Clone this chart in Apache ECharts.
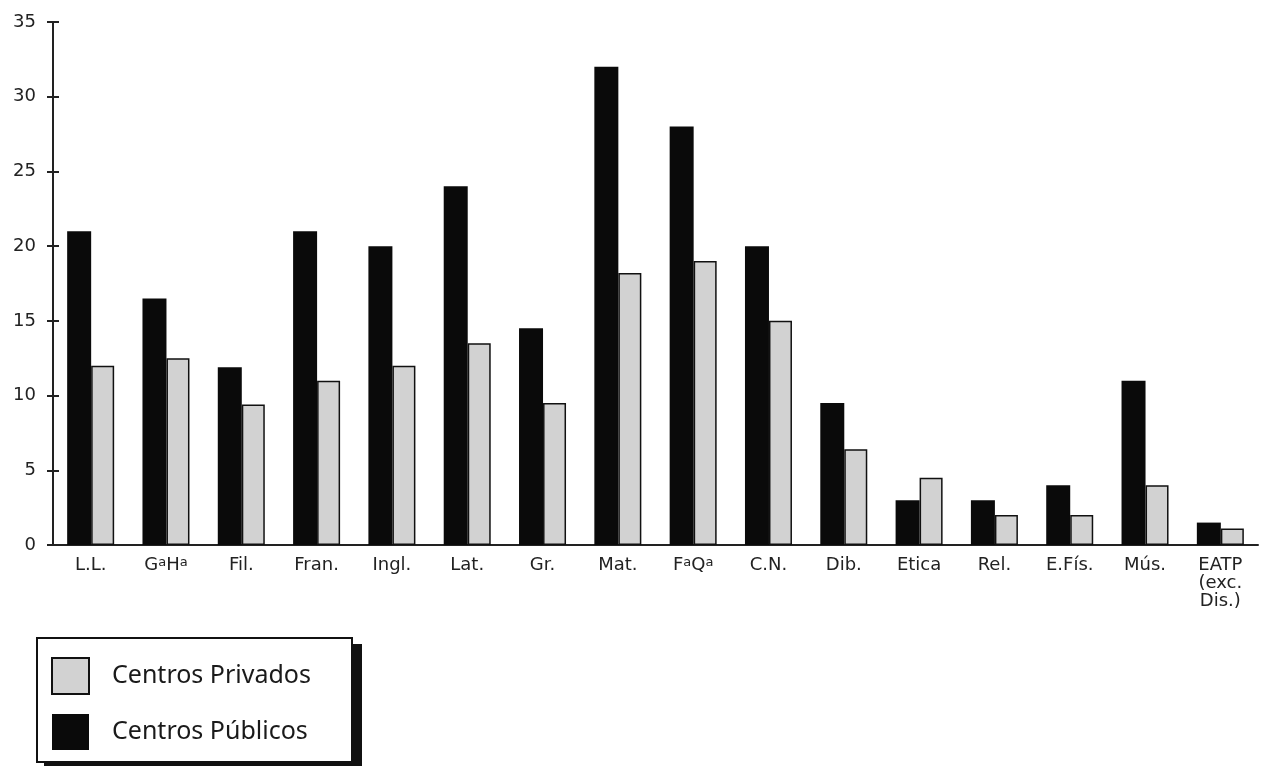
<!DOCTYPE html>
<html>
<head>
<meta charset="utf-8">
<script src="https://cdn.jsdelivr.net/npm/echarts@6/dist/echarts.min.js"></script>
<style>
html,body{margin:0;padding:0;background:#fff;}
#c{width:1261px;height:766px;}
</style>
</head>
<body>
<div id="c"></div>
<script>
var categories = ['L.L.', 'G{s|a}H{s|a}', 'Fil.', 'Fran.', 'Ingl.', 'Lat.', 'Gr.', 'Mat.', 'F{s|a}Q{s|a}', 'C.N.', 'Dib.', 'Etica', 'Rel.', 'E.Fís.', 'Mús.', 'EATP\n(exc.\nDis.)'];
var publicos = [21, 16.5, 11.9, 21, 20, 24, 14.5, 32, 28, 20, 9.5, 3, 3, 4, 11, 1.5];
var privados = [12, 12.5, 9.4, 11, 12, 13.5, 9.5, 18.2, 19, 15, 6.4, 4.5, 2, 2, 4, 1.1];
var yTicks = [0, 5, 10, 15, 20, 25, 30, 35];

var chart = echarts.init(document.getElementById('c'));
var labelFont = 'DejaVu Sans, Liberation Sans, sans-serif';
chart.setOption({
  animation: false,
  backgroundColor: '#fff',
  textStyle: {fontFamily: labelFont},
  grid: {left: 53, right: 3, top: 22, bottom: 221},
  graphic: [{
    type: 'rect', z: 0, silent: true,
    shape: {x: 44, y: 644, width: 318, height: 130},
    style: {fill: '#111'}
  }, {
    type: 'rect', z: 1, silent: true,
    shape: {x: 37, y: 638, width: 315, height: 124},
    style: {fill: '#fff', stroke: '#111', lineWidth: 2}
  }],
  legend: {
    orient: 'vertical',
    left: 51, top: 657,
    data: ['Centros Privados', 'Centros Públicos'],
    icon: 'rect',
    itemWidth: 37, itemHeight: 36,
    itemGap: 19,
    padding: 0,
    z: 10,
    textStyle: {fontFamily: 'Noto Sans', fontSize: 25, color: '#1a1a1a', padding: [0, 0, 0, 18]},
    selectedMode: false
  },
  xAxis: [{
    type: 'category', data: categories,
    axisLine: {lineStyle: {color: '#222', width: 2}},
    axisTick: {length: 7, lineStyle: {color: '#222', width: 2}},
    axisLabel: {
      interval: 0, margin: 11, color: '#222', fontSize: 18, lineHeight: 18,
      fontFamily: labelFont,
      rich: {s: {fontSize: 13, verticalAlign: 'top', padding: [0, 0, 6, 0], color: '#222', fontFamily: labelFont}}
    }
  }, {
    type: 'category', data: categories, position: 'bottom',
    axisLine: {show: false},
    axisTick: {inside: true, length: 6, lineStyle: {color: '#222', width: 2}},
    axisLabel: {show: false}
  }],
  yAxis: [{
    type: 'value', min: 0, max: 35, interval: 5,
    splitLine: {show: false},
    axisLine: {show: true, lineStyle: {color: '#222', width: 2}},
    axisTick: {show: true, length: 6, lineStyle: {color: '#222', width: 2}},
    axisLabel: {
      margin: 17, color: '#222', fontSize: 18, fontFamily: labelFont,
      formatter: function (v) { return yTicks.indexOf(v) >= 0 ? String(v) : ''; }
    }
  }, {
    type: 'value', min: 0, max: 35, interval: 5, position: 'left',
    splitLine: {show: false},
    axisLine: {show: false},
    axisTick: {show: true, inside: true, length: 6, lineStyle: {color: '#222', width: 2}},
    axisLabel: {show: false}
  }],
  series: [{
    name: 'Centros Públicos', type: 'bar', data: publicos,
    barWidth: 24, barGap: '0%',
    itemStyle: {color: '#0a0a0a'}
  }, {
    name: 'Centros Privados', type: 'bar', data: privados,
    barWidth: 23, barGap: '0%',
    itemStyle: {color: '#d2d2d2', borderColor: '#111', borderWidth: 1.5}
  }]
});
</script>
</body>
</html>
